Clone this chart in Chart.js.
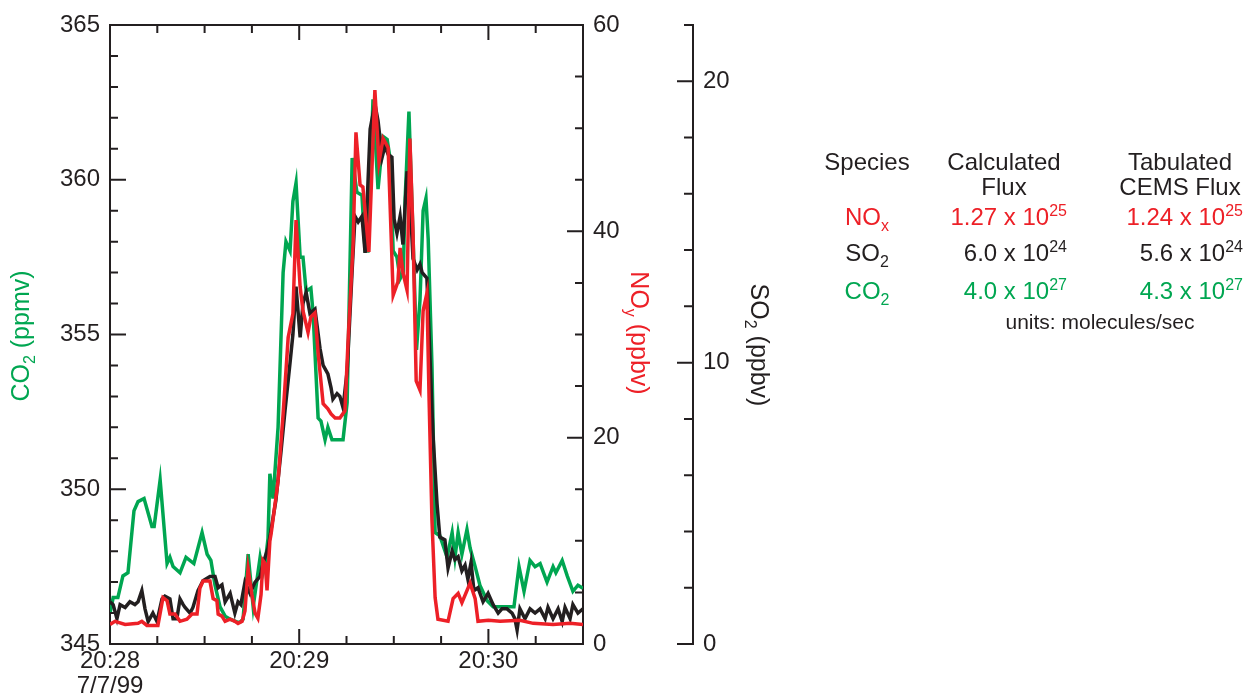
<!DOCTYPE html>
<html>
<head>
<meta charset="utf-8">
<script src="https://cdn.jsdelivr.net/npm/chart.js@4.4.1/dist/chart.umd.min.js"></script>
<style>
  body { margin: 0; background: #fff; }
  #wrap { position: relative; width: 1248px; height: 698px; font-family: 'Liberation Sans', Arial, sans-serif; color: #231f20; }
  canvas { position: absolute; left: 0; top: 0; }
  .t { position: absolute; font-size: 24px; line-height: 26px; white-space: nowrap; }
  .ax { font-size: 25px; }
  .c { text-align: center; }
  .r { text-align: right; }
  .rl { transform: rotate(-90deg); }
  .rr { transform: rotate(90deg); }
  sub, sup { font-size: 16px; line-height: 0; }
  .green { color: #00a651; }
  .red { color: #ed2027; }
</style>
</head>
<body>
<div id="wrap">
  <canvas id="plume" width="1248" height="698"></canvas>

  <!-- axis titles -->
  <div class="t ax c rl green" style="left:-80px;top:323px;width:200px;">CO<sub>2</sub> (ppmv)</div>
  <div class="t ax c rr red" style="left:540px;top:320px;width:200px;">NO<sub>y</sub> (ppbv)</div>
  <div class="t ax c rr" style="left:660px;top:332px;width:200px;">SO<sub>2</sub> (ppbv)</div>

  <!-- flux table -->
  <div class="t c" style="left:807px;top:149px;width:120px;">Species</div>
  <div class="t c" style="left:934px;top:149px;width:140px;line-height:25px;">Calculated<br>Flux</div>
  <div class="t c" style="left:1100px;top:149px;width:160px;line-height:25px;">Tabulated<br>CEMS Flux</div>

  <div class="t c red" style="left:807px;top:204px;width:120px;">NO<sub>x</sub></div>
  <div class="t r red" style="left:900px;top:204px;width:167px;">1.27 x 10<sup>25</sup></div>
  <div class="t r red" style="left:1075px;top:204px;width:168px;">1.24 x 10<sup>25</sup></div>

  <div class="t c" style="left:807px;top:240px;width:120px;">SO<sub>2</sub></div>
  <div class="t r" style="left:900px;top:240px;width:167px;">6.0 x 10<sup>24</sup></div>
  <div class="t r" style="left:1075px;top:240px;width:168px;">5.6 x 10<sup>24</sup></div>

  <div class="t c green" style="left:807px;top:278px;width:120px;">CO<sub>2</sub></div>
  <div class="t r green" style="left:900px;top:278px;width:167px;">4.0 x 10<sup>27</sup></div>
  <div class="t r green" style="left:1075px;top:278px;width:168px;">4.3 x 10<sup>27</sup></div>

  <div class="t c" style="left:1000px;top:309px;width:200px;font-size:21px;">units: molecules/sec</div>
</div>

<script>
// seconds after 20:28:00 on 7/7/99
const co2Time = [0, 1.0, 2.5, 4.1, 5.7, 7.6, 8.9, 10.8, 13.3, 14.0, 15.9, 18.1, 19.0, 20.0, 22.2, 24.1, 26.6, 29.2, 30.8, 32.0,
  33.3, 34.9, 36.5, 38.1, 40.6, 41.2, 42.2, 43.8, 45.4, 47.6, 48.5, 49.2, 50.1, 50.7, 51.7, 53.3, 54.9, 55.8, 57.1, 58.0,
  59.0, 60.3, 61.2, 62.2, 63.7, 64.4, 66.0, 66.9, 68.2, 69.1, 70.4, 73.9, 75.2, 76.8, 78.3, 79.9, 80.9, 81.8, 83.4, 85.0,
  86.6, 87.9, 88.8, 89.8, 91.0, 92.0, 93.0, 93.6, 94.8, 96.0, 97.2, 98.3, 99.3, 100.2, 100.9, 102.1, 103.1, 104.6, 106.9, 108.5,
  109.4, 110.4, 111.6, 113.2, 114.2, 115.8, 117.3, 119.6, 121.5, 124.3, 128.1, 129.7, 131.3, 133.2, 134.8, 136.4, 138.6, 140.5, 141.4, 143.4,
  145.0, 146.8, 148.4, 150];
const co2Ppmv = [346.0, 346.5, 346.5, 347.2, 347.3, 349.3, 349.6, 349.7, 348.8, 348.8, 350.3, 347.6, 347.8, 347.5, 347.3, 347.8, 347.6, 348.6, 347.9, 347.7,
  346.9, 346.2, 345.9, 345.8, 345.7, 345.7, 345.8, 347.9, 346.2, 347.8, 347.3, 347.6, 348.4, 350.5, 349.7, 352.0, 357.0, 358.0, 357.7, 359.3,
  359.9, 357.5, 357.5, 356.4, 356.5, 355.7, 352.3, 352.2, 351.6, 352.0, 351.6, 351.6, 352.8, 360.7, 359.6, 359.5, 357.7, 357.7, 362.6, 359.7,
  361.4, 361.3, 360.7, 357.7, 357.5, 356.8, 357.0, 359.4, 362.2, 358.5, 354.5, 356.1, 359.0, 359.4, 358.1, 354.0, 348.6, 348.5, 347.8, 348.6,
  347.8, 348.6, 347.9, 348.7, 348.1, 347.5, 346.9, 346.4, 346.2, 346.2, 346.2, 347.5, 346.7, 347.7, 347.5, 347.6, 347.0, 347.5, 347.3, 347.7,
  347.2, 346.7, 346.9, 346.8];

const noyTime = [0, 1.6, 4.8, 8.9, 10.1, 11.7, 15.2, 16.8, 18.1, 19.0, 20.6, 22.2, 24.4, 26.0, 27.6, 28.5, 29.5, 31.7, 32.7, 33.9,
  34.3, 35.5, 36.5, 38.1, 39.6, 40.6, 41.9, 42.8, 43.8, 45.0, 46.0, 46.9, 47.9, 48.5, 49.2, 49.8, 50.7, 51.1, 53.3, 54.9,
  56.5, 58.0, 59.0, 60.3, 61.2, 62.8, 63.7, 65.0, 66.0, 67.6, 69.1, 70.1, 71.4, 72.9, 74.5, 75.5, 77.1, 78.0, 79.3, 80.2,
  82.1, 84.0, 85.3, 86.6, 88.2, 89.8, 91.3, 92.0, 92.9, 94.2, 95.1, 96.1, 97.1, 98.3, 99.3, 100.5, 101.2, 102.1, 103.1, 104.0,
  107.2, 108.8, 110.4, 111.6, 114.2, 115.8, 116.7, 120.0, 123.7, 130.0, 134.2, 140.5, 145.9, 150];
const noyPpbv = [1.9, 2.2, 1.9, 2.0, 2.2, 1.8, 1.8, 4.5, 4.2, 2.9, 2.9, 2.2, 2.4, 2.9, 2.9, 5.4, 6.1, 6.1, 4.4, 4.2,
  2.9, 2.7, 2.2, 2.4, 2.2, 2.0, 2.2, 3.2, 7.3, 4.8, 3.0, 2.5, 4.8, 8.1, 7.8, 5.2, 10.0, 10.7, 15.8, 22.3,
  29.7, 32.0, 41.1, 34.6, 32.3, 30.2, 31.7, 32.1, 28.2, 23.3, 22.8, 22.3, 21.9, 21.9, 22.6, 29.4, 38.8, 49.6, 44.5, 44.3,
  38.0, 53.7, 46.7, 49.0, 48.1, 33.8, 35.1, 38.4, 36.0, 34.3, 49.0, 39.8, 25.5, 24.6, 32.3, 34.0, 23.6, 12.0, 4.5, 2.4,
  2.2, 4.4, 4.9, 4.0, 5.9, 4.4, 2.2, 2.3, 2.2, 2.3, 2.0, 1.9, 2.0, 1.9];

const so2Time = [0, 1.0, 2.2, 3.2, 4.8, 6.3, 7.9, 8.9, 10.1, 11.1, 12.1, 13.6, 14.9, 16.5, 17.4, 19.0, 20.0, 21.2, 22.2, 23.2,
  23.8, 25.4, 26.3, 27.9, 29.5, 31.7, 33.3, 34.3, 35.5, 36.5, 38.1, 39.6, 40.6, 41.5, 42.8, 44.4, 46.0, 47.6, 48.5, 50.1,
  50.7, 52.6, 54.2, 55.5, 57.1, 58.0, 59.0, 60.3, 61.2, 62.2, 63.4, 65.0, 66.6, 67.6, 69.1, 70.1, 70.7, 72.0, 72.9, 73.9,
  75.2, 76.8, 77.7, 78.7, 79.9, 80.9, 82.5, 84.0, 85.0, 86.3, 87.2, 88.2, 89.4, 90.1, 91.0, 92.0, 92.9, 94.2, 95.1, 96.1,
  97.4, 98.3, 99.0, 100.5, 101.5, 102.4, 103.7, 104.6, 106.2, 107.2, 108.5, 109.4, 110.4, 111.6, 112.6, 113.5, 114.5, 115.4, 116.7, 118.3,
  119.9, 121.5, 123.1, 124.3, 125.9, 127.5, 128.4, 129.1, 130.0, 131.6, 133.2, 134.8, 136.4, 138.0, 138.9, 140.5, 142.1, 143.4, 144.3, 145.9,
  146.8, 148.4, 150];
const so2Ppbv = [1.5, 1.4, 0.9, 1.4, 1.3, 1.5, 1.4, 1.5, 1.9, 1.25, 0.8, 1.1, 0.8, 1.6, 1.7, 1.6, 0.9, 0.9, 1.6, 1.4,
  1.3, 1.1, 1.3, 1.9, 2.25, 2.4, 2.4, 2.0, 2.1, 1.5, 1.8, 1.1, 1.5, 1.4, 2.2, 1.8, 2.2, 2.4, 2.85, 3.4,
  3.8, 5.1, 6.8, 8.3, 10.0, 11.0, 12.7, 10.9, 12.1, 12.5, 11.75, 11.9, 10.5, 9.9, 9.6, 9.1, 8.7, 8.9, 8.8, 8.4,
  9.7, 13.3, 15.2, 15.0, 15.2, 13.9, 18.3, 19.2, 18.6, 17.3, 17.7, 17.4, 17.3, 15.1, 14.6, 15.2, 14.2, 16.8, 15.9, 13.7,
  13.3, 13.5, 13.2, 13.0, 10.1, 7.5, 5.0, 3.8, 3.7, 2.7, 3.3, 3.0, 3.1, 2.6, 2.8, 2.3, 2.9, 1.9, 2.0, 1.5,
  1.8, 1.4, 1.1, 1.25, 1.25, 1.1, 0.9, 0.5, 1.25, 0.9, 1.25, 1.1, 1.25, 0.9, 1.3, 0.9, 1.25, 0.8, 1.3, 0.9,
  1.4, 1.1, 1.25];

const xLabels = { 0: ['20:28', '7/7/99'], 60: '20:29', 120: '20:30' };

const INK   = '#231f20';
const GREEN = '#00a651';
const RED   = '#ed2027';
const FONT  = { family: "'Liberation Sans', Arial, sans-serif", size: 24, lineHeight: 1.05 };
const LINE_W = 3.5;

const toXY = (ts, vs) => ts.map((t, i) => ({ x: t, y: vs[i] }));

// inward tick marks + top frame, drawn from the chart's own scales
const tickMarks = {
  id: 'tickMarks',
  afterDraw(chart) {
    const { ctx, chartArea: a, scales } = chart;
    ctx.save();
    ctx.strokeStyle = INK;
    ctx.lineWidth = 2;
    ctx.beginPath();
    ctx.moveTo(a.left - 1, a.top);
    ctx.lineTo(a.right + 1, a.top);

    scales.x.ticks.forEach(t => {
      const px = scales.x.getPixelForValue(t.value);
      const len = t.value % 60 === 0 ? 15 : 8;
      ctx.moveTo(px, a.bottom); ctx.lineTo(px, a.bottom - len);
      ctx.moveTo(px, a.top);    ctx.lineTo(px, a.top + len);
    });
    scales.y.ticks.forEach(t => {
      const py = scales.y.getPixelForValue(t.value);
      const len = t.value % 5 === 0 ? 16 : 8;
      ctx.moveTo(a.left, py); ctx.lineTo(a.left + len, py);
    });
    scales.yN.ticks.forEach(t => {
      const py = scales.yN.getPixelForValue(t.value);
      const len = t.value % 20 === 0 ? 16 : 8;
      ctx.moveTo(a.right, py); ctx.lineTo(a.right - len, py);
    });
    const sx = scales.yS.left;
    scales.yS.ticks.forEach(t => {
      const py = scales.yS.getPixelForValue(t.value);
      const len = t.value % 10 === 0 ? 16 : 9;
      ctx.moveTo(sx, py); ctx.lineTo(sx - len, py);
    });
    ctx.stroke();
    ctx.restore();
  }
};

function axisBase(extra) {
  return Object.assign({
    type: 'linear',
    border: { display: true, color: INK, width: 2 },
    grid: { display: true, drawOnChartArea: false, drawTicks: false },
  }, extra);
}

new Chart(document.getElementById('plume').getContext('2d'), {
  type: 'line',
  data: {
    datasets: [
      { label: 'NOy', data: toXY(noyTime, noyPpbv), yAxisID: 'yN', borderColor: RED,   borderWidth: LINE_W, pointRadius: 0, tension: 0 },
      { label: 'SO2', data: toXY(so2Time, so2Ppbv), yAxisID: 'yS', borderColor: INK,   borderWidth: LINE_W, pointRadius: 0, tension: 0 },
      { label: 'CO2', data: toXY(co2Time, co2Ppmv), yAxisID: 'y',  borderColor: GREEN, borderWidth: LINE_W, pointRadius: 0, tension: 0 },
    ]
  },
  options: {
    responsive: false,
    animation: false,
    devicePixelRatio: 1,
    layout: { padding: { left: 0, top: 25, right: 475, bottom: 0 } },
    plugins: { legend: { display: false }, tooltip: { enabled: false } },
    scales: {
      x: axisBase({
        position: 'bottom', min: 0, max: 150,
        ticks: {
          stepSize: 15, autoSkip: false, maxRotation: 0, padding: 5, color: INK, font: FONT,
          callback: v => xLabels[v] || ''
        },
        afterFit: s => { s.height = 54; }
      }),
      y: axisBase({
        position: 'left', min: 345, max: 365,
        ticks: { stepSize: 1, maxTicksLimit: 100, padding: 10, color: INK, font: FONT,
          callback: v => v % 5 === 0 ? v : '' },
        afterFit: s => { s.width = 110; }
      }),
      yN: axisBase({
        position: 'right', min: 0, max: 60,
        ticks: { stepSize: 5, maxTicksLimit: 100, padding: 10, color: INK, font: FONT,
          callback: v => v % 20 === 0 ? v : '' },
        afterFit: s => { s.width = 110; }
      }),
      yS: axisBase({
        position: 'right', min: 0, max: 22,
        ticks: { stepSize: 2, maxTicksLimit: 100, padding: 10, color: INK, font: FONT,
          callback: v => v % 10 === 0 ? v : '' },
        afterFit: s => { s.width = 80; }
      })
    }
  },
  plugins: [tickMarks]
});
</script>
</body>
</html>
